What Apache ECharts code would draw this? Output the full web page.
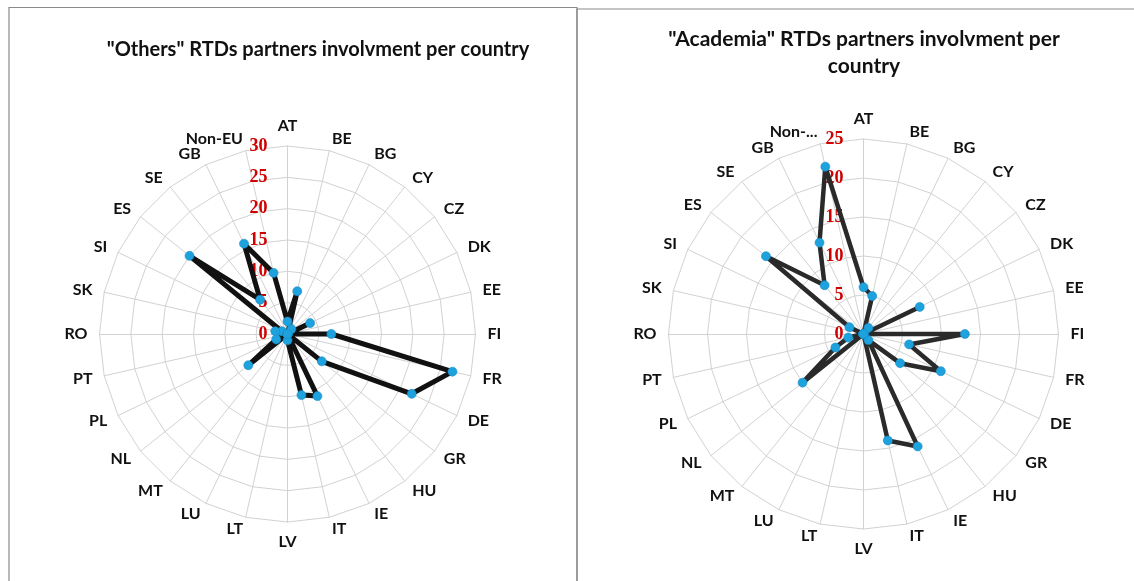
<!DOCTYPE html>
<html>
<head>
<meta charset="utf-8">
<script src="https://cdn.jsdelivr.net/npm/echarts@6/dist/echarts.min.js"></script>
<style>
  html, body { margin: 0; padding: 0; background: #ffffff; }
  #chart { width: 1134px; height: 581px; }
</style>
</head>
<body>
<div id="chart"></div>
<script>
// Countries, listed clockwise starting from the top spoke
const countries = ['AT', 'BE', 'BG', 'CY', 'CZ', 'DK', 'EE', 'FI', 'FR', 'DE', 'GR', 'HU', 'IE', 'IT',
  'LV', 'LT', 'LU', 'MT', 'NL', 'PL', 'PT', 'RO', 'SK', 'SI', 'ES', 'SE', 'GB', 'Non-EU'];

// "Others" RTD partners per country
const othersValues = [2, 7, 0, 1, 0, 4, 0, 7, 27, 22, 7, 0, 11, 10,
  1, 0, 0, 0, 8, 2, 0, 0, 2, 1, 20, 7, 16, 10];

// "Academia" RTD partners per country
const academiaValues = [6, 5, 0, 1, 0, 8, 0, 13, 6, 11, 6, 1, 16, 14,
  0, 0, 0, 0, 10, 4, 2, 0, 0, 2, 16, 8, 13, 22];

// Radial scales
const othersMax = 30;
const academiaMax = 25;
const tickStep = 5;

const titles = {
  others: '"Others" RTDs partners involvment per country',
  academia: '"Academia" RTDs partners involvment per\ncountry'
};

// ECharts lays radar indicators out counter-clockwise; reorder so the
// countries run clockwise from the top.
const order = countries.map((_, i) => (countries.length - i) % countries.length);
const reorder = arr => order.map(i => arr[i]);

const tickLabelStyle = {
  show: true,
  color: '#d00000',
  fontFamily: 'Liberation Serif',
  fontWeight: 'bold',
  fontSize: 18,
  margin: 20
};

function indicators(max) {
  return order.map((idx, k) => {
    const ind = { name: countries[idx], min: 0, max: max };
    if (k === 0) ind.axisLabel = Object.assign({}, tickLabelStyle);
    return ind;
  });
}

const nameStyle = {
  color: '#111111',
  fontFamily: 'Lato',
  fontWeight: 'bold',
  fontSize: 16
};

const gridLine = { lineStyle: { color: '#d2d2d2', width: 1 } };

function radarBase(center, radius, max) {
  return {
    center: center,
    radius: radius,
    startAngle: 90,
    shape: 'polygon',
    splitNumber: max / tickStep,
    indicator: indicators(max),
    axisName: Object.assign({}, nameStyle),
    nameGap: 12,
    splitLine: gridLine,
    axisLine: gridLine,
    splitArea: { show: false },
    axisTick: { show: false },
    axisLabel: { show: false }
  };
}

const leftRadar = radarBase([287.5, 334], 188, othersMax);
const rightRadar = radarBase([863.5, 334], 195, academiaMax);
// Long labels on the right chart are cut short
rightRadar.axisName.formatter = name => (name.length > 5 ? name.slice(0, 4) + '...' : name);

function radarSeries(radarIndex, values, lineColor, lineWidth) {
  return {
    type: 'radar',
    radarIndex: radarIndex,
    symbol: 'circle',
    symbolSize: 9,
    lineStyle: { color: lineColor, width: lineWidth },
    itemStyle: { color: '#1ea2de', borderColor: '#168cc4', borderWidth: 0.6 },
    data: [{ value: reorder(values) }],
    z: 3
  };
}

const chart = echarts.init(document.getElementById('chart'), null, { renderer: 'canvas' });
chart.setOption({
  animation: false,
  backgroundColor: '#ffffff',
  title: [
    {
      text: titles.others,
      left: 313, top: 35, textAlign: 'center',
      textStyle: { fontFamily: 'Lato', fontWeight: 'bold', fontSize: 20, color: '#111111' }
    },
    {
      text: titles.academia,
      left: 859, top: 21, textAlign: 'center',
      textStyle: { fontFamily: 'Lato', fontWeight: 'bold', fontSize: 21, color: '#111111', lineHeight: 27 }
    }
  ],
  graphic: [
    { type: 'rect', shape: { x: 9, y: 7.5, width: 568, height: 600 },
      style: { fill: null, stroke: '#8a8a8a', lineWidth: 1.2 }, silent: true },
    { type: 'rect', shape: { x: 577, y: 9, width: 600, height: 600 },
      style: { fill: null, stroke: '#8a8a8a', lineWidth: 1.2 }, silent: true }
  ],
  radar: [leftRadar, rightRadar],
  series: [
    radarSeries(0, othersValues, '#111111', 5),
    radarSeries(1, academiaValues, '#2a2a2a', 4.5)
  ]
});
</script>
</body>
</html>
